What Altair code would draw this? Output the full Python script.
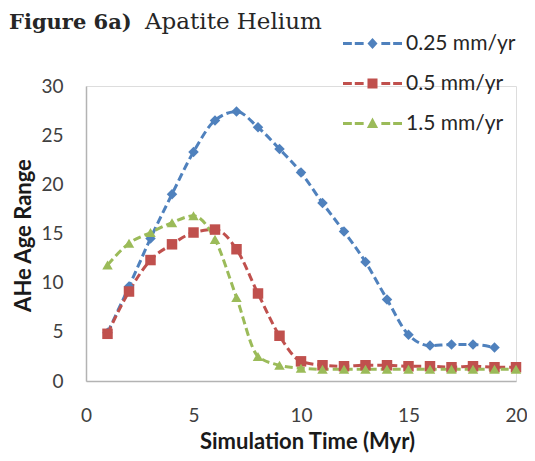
import altair as alt
import pandas as pd

series_names = ["0.25 mm/yr", "0.5 mm/yr", "1.5 mm/yr"]
colors = ["#4f81bd", "#c0504d", "#9bbb59"]
shapes = ["diamond", "square", "triangle-up"]

time_blue = list(range(1, 20))
age_blue = [4.9, 9.6, 14.5, 19.0, 23.3, 26.5, 27.4, 25.8, 23.6, 21.2,
            18.1, 15.2, 12.1, 8.3, 4.7, 3.6, 3.7, 3.7, 3.4]
time_red = list(range(1, 21))
age_red = [4.8, 9.1, 12.3, 13.9, 15.1, 15.4, 13.4, 8.9, 4.6, 2.0,
           1.6, 1.5, 1.6, 1.6, 1.5, 1.5, 1.4, 1.5, 1.4, 1.4]
time_green = list(range(1, 21))
age_green = [11.8, 14.0, 15.1, 16.1, 16.8, 14.4, 8.5, 2.5, 1.6, 1.3,
             1.2, 1.2, 1.2, 1.2, 1.2, 1.2, 1.2, 1.2, 1.2, 1.2]

title_bold = "Figure 6a)"
title_regular = "Apatite Helium"

rows = []
for i, (name, xs, ys) in enumerate([(series_names[0], time_blue, age_blue),
                                    (series_names[1], time_red, age_red),
                                    (series_names[2], time_green, age_green)]):
    for t, a in zip(xs, ys):
        rows.append({"time": t, "age": a, "series": name, "order": i})
df = pd.DataFrame(rows)

# legend symbols: dashed line with marker (custom SVG paths in unit coordinates)
dashes = ("M -1 -0.05 L -0.7 -0.05 L -0.7 0.05 L -1 0.05 Z "
          "M -0.6 -0.05 L -0.3 -0.05 L -0.3 0.05 L -0.6 0.05 Z "
          "M 0.3 -0.05 L 0.6 -0.05 L 0.6 0.05 L 0.3 0.05 Z "
          "M 0.7 -0.05 L 1 -0.05 L 1 0.05 L 0.7 0.05 Z ")
legend_paths = [
    dashes + "M 0 -0.19 L 0.17 0 L 0 0.19 L -0.17 0 Z",
    dashes + "M -0.17 -0.17 L 0.17 -0.17 L 0.17 0.17 L -0.17 0.17 Z",
    dashes + "M 0 -0.2 L 0.19 0.15 L -0.19 0.15 Z",
]

label_font = "Lato"
serif = "DejaVu Serif"

x_enc = alt.X("time:Q", scale=alt.Scale(domain=[0, 20], nice=False),
              axis=alt.Axis(values=[0, 5, 10, 15, 20], title="Simulation Time (Myr)",
                            grid=False, ticks=False, tickSize=0, labelPadding=25,
                            labelFlush=False,
                            labelFontSize=19, labelFont=label_font, labelColor="#404040",
                            domainColor="#b3b3b3", domainWidth=1.5,
                            titleFont=label_font, titleFontSize=22, titleFontWeight="bold",
                            titleColor="#1a1a1a", titleX=221, titleY=60,
                            titleBaseline="middle", titleAnchor="middle"))
y_enc = alt.Y("age:Q", scale=alt.Scale(domain=[0, 30], nice=False),
              axis=alt.Axis(values=[0, 5, 10, 15, 20, 25, 30], title="AHe Age Range",
                            grid=False, ticks=False, tickSize=0, labelPadding=23,
                            labelFlush=False,
                            labelFontSize=19, labelFont=label_font, labelColor="#404040",
                            domainColor="#b3b3b3", domainWidth=1.5,
                            titleFont=label_font, titleFontSize=22, titleFontWeight="bold",
                            titleColor="#1a1a1a", titleX=-63, titleY=149,
                            titleBaseline="middle", titleAngle=-90, titleAnchor="middle"))

color_scale = alt.Scale(domain=series_names, range=colors)

base = alt.Chart(df)

lines = base.mark_line(strokeDash=[8, 4], strokeWidth=3, interpolate="monotone").encode(
    x=x_enc, y=y_enc,
    color=alt.Color("series:N", scale=color_scale, legend=None),
    detail="series:N",
    order="time:Q",
)

points = base.mark_point(filled=True, opacity=1, strokeWidth=1).encode(
    x=x_enc, y=y_enc,
    color=alt.Color("series:N", scale=color_scale, legend=None),
    shape=alt.Shape("series:N", scale=alt.Scale(domain=series_names, range=shapes), legend=None),
    size=alt.value(110),
)

leg = dict(title=None, orient="none", legendX=257, legendY=-72,
           symbolSize=3481, symbolStrokeWidth=0, labelOffset=4,
           labelFont=label_font, labelFontSize=21,
           labelColor="#262626", rowPadding=-21, padding=0, symbolOpacity=1)

legend_layer = base.transform_filter("false").mark_point(filled=True, opacity=1, strokeWidth=0).encode(
    x=x_enc, y=y_enc,
    color=alt.Color("series:N", scale=color_scale, legend=alt.Legend(**leg)),
    shape=alt.Shape("series:N", scale=alt.Scale(domain=series_names, range=legend_paths),
                    legend=alt.Legend(**leg)),
    size=alt.value(3481),
)

title_df = pd.DataFrame({"t": [title_bold]})
title_text = alt.Chart(title_df).mark_text(
    align="left", baseline="alphabetic", font=serif, fontSize=21, fontWeight="bold",
    color="#262626"
).encode(text="t:N", x=alt.value(-77), y=alt.value(-57))

subtitle_df = pd.DataFrame({"t": [title_regular]})
subtitle = alt.Chart(subtitle_df).mark_text(
    align="left", baseline="alphabetic", font=serif, fontSize=23,
    color="#262626"
).encode(text="t:N", x=alt.value(59), y=alt.value(-57))

chart = alt.layer(lines, points, legend_layer, title_text, subtitle).resolve_scale(
    color="independent", shape="independent"
).properties(
    width=430, height=295,
    padding={"left": 78, "top": 78, "right": 11, "bottom": 72},
    autosize=alt.AutoSizeParams(type="none"),
).configure_view(stroke=None).configure(background="white")

chart.save("out.html", embed_options={"renderer": "svg", "actions": False})
